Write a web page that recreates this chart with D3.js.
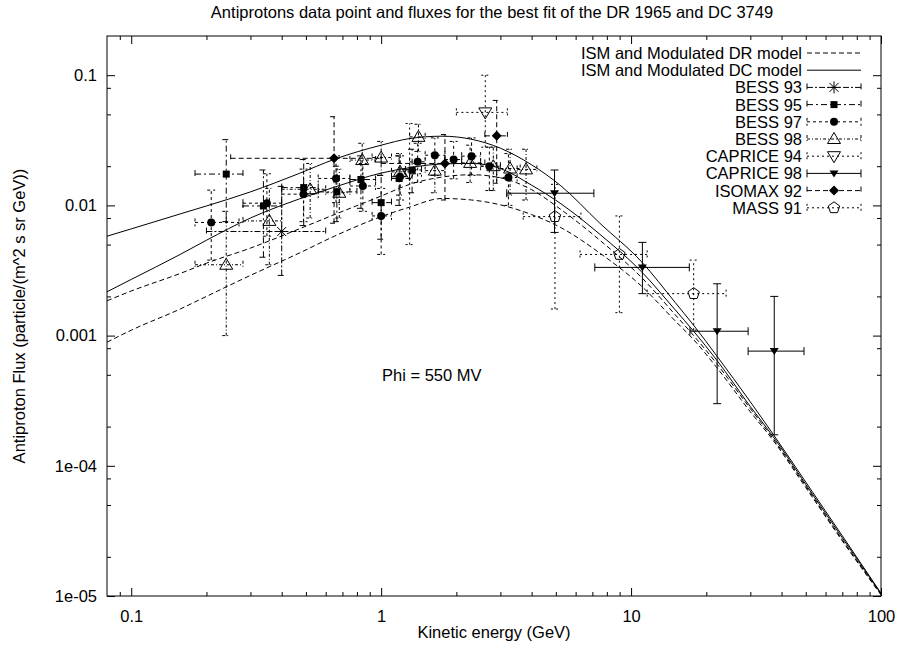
<!DOCTYPE html>
<html lang="en">
<head>
<meta charset="utf-8">
<title>Antiproton fluxes</title>
<script src="https://cdn.jsdelivr.net/npm/d3@7"></script>
<style>
body { margin: 0; background: #fff; }
text { font-family: "Liberation Sans", Arial, Helvetica, sans-serif; font-size: 16.5px; fill: #000; }
</style>
</head>
<body>
<svg id="chart" width="899" height="654"></svg>
<script>
// model curves
var energyGrid = [0.08, 0.1, 0.157, 0.2, 0.3, 0.47, 0.65, 1.0, 1.3, 1.75, 2.3, 3.0, 4.0, 5.2, 7.5, 11, 15, 17.8, 22, 30, 37, 50, 70, 100];
var dcUpper = [0.0058, 0.0066, 0.0086, 0.0099, 0.0127, 0.0176, 0.0226, 0.0290, 0.0326, 0.0340, 0.0322, 0.0275, 0.0205, 0.0143, 0.0073, 0.0037, 0.0018, 0.0012, 0.00070, 0.00031, 0.000175, 0.000075, 0.000029, 0.0000105];
var dcLower = [0.00217, 0.0027, 0.0042, 0.0054, 0.0080, 0.0112, 0.0138, 0.0177, 0.0195, 0.0208, 0.0210, 0.0192, 0.0143, 0.0104, 0.0060, 0.0031, 0.00158, 0.00108, 0.00065, 0.000285, 0.000168, 0.000072, 0.000028, 0.0000104];
var drUpper = [0.00185, 0.0022, 0.0030, 0.0036, 0.0047, 0.0066, 0.0085, 0.0118, 0.0145, 0.0165, 0.0172, 0.0163, 0.0132, 0.0094, 0.0054, 0.0028, 0.00145, 0.00100, 0.00061, 0.000275, 0.000162, 0.000070, 0.000027, 0.0000103];
var drLower = [0.00089, 0.0011, 0.0016, 0.0020, 0.0029, 0.0043, 0.0058, 0.0082, 0.0097, 0.0113, 0.0110, 0.0101, 0.0085, 0.0068, 0.0043, 0.0024, 0.0013, 0.00093, 0.00057, 0.00026, 0.000157, 0.000068, 0.0000265, 0.0000102];

// data points: [E, flux, Elow, Ehigh, fluxLow, fluxHigh]
var bess93 = [[0.40, 0.0063, 0.20, 0.60, 0.0029, 0.0140]];
var bess95 = [
  [0.24, 0.0174, 0.18, 0.28, 0.0075, 0.032],
  [0.338, 0.0099, 0.28, 0.40, 0.0040, 0.0187],
  [0.49, 0.0137, 0.40, 0.56, 0.0070, 0.0225],
  [0.665, 0.0127, 0.56, 0.80, 0.0075, 0.020],
  [0.83, 0.0158, 0.75, 0.95, 0.0095, 0.024],
  [1.0, 0.0105, 0.92, 1.10, 0.0055, 0.017],
  [1.18, 0.0161, 1.10, 1.30, 0.0100, 0.024],
  [1.33, 0.0187, 1.25, 1.45, 0.0125, 0.027]
];
var bess97 = [
  [0.209, 0.0074, 0.18, 0.27, 0.0038, 0.0131],
  [0.349, 0.0104, 0.28, 0.40, 0.0058, 0.0175],
  [0.489, 0.0122, 0.40, 0.56, 0.0075, 0.0190],
  [0.66, 0.0161, 0.56, 0.75, 0.0105, 0.0240],
  [0.845, 0.0141, 0.75, 0.95, 0.0090, 0.0210],
  [1.0, 0.0083, 0.92, 1.10, 0.0042, 0.0135],
  [1.19, 0.0166, 1.10, 1.30, 0.0110, 0.0240],
  [1.40, 0.0216, 1.30, 1.50, 0.0150, 0.0300],
  [1.64, 0.0243, 1.50, 1.80, 0.0170, 0.0330],
  [1.95, 0.0225, 1.80, 2.10, 0.0160, 0.0310],
  [2.30, 0.0239, 2.10, 2.50, 0.0170, 0.0330],
  [2.71, 0.0200, 2.50, 2.90, 0.0130, 0.0280],
  [3.23, 0.0164, 2.90, 3.50, 0.0100, 0.0250]
];
var bess98 = [
  [0.24, 0.0035, 0.18, 0.28, 0.0010, 0.0090],
  [0.357, 0.0076, 0.28, 0.40, 0.0035, 0.0135],
  [0.52, 0.0133, 0.40, 0.60, 0.0080, 0.0210],
  [0.68, 0.0125, 0.60, 0.75, 0.0080, 0.0190],
  [0.84, 0.0223, 0.75, 0.95, 0.0160, 0.0300],
  [1.0, 0.0233, 0.92, 1.10, 0.0170, 0.0310],
  [1.19, 0.0181, 1.10, 1.30, 0.0120, 0.0250],
  [1.41, 0.0336, 1.30, 1.50, 0.0260, 0.0420],
  [1.64, 0.0185, 1.50, 1.80, 0.0125, 0.0250],
  [2.27, 0.0212, 2.10, 2.50, 0.0150, 0.0290],
  [2.81, 0.0200, 2.50, 3.00, 0.0130, 0.0280],
  [3.28, 0.0192, 3.00, 3.60, 0.0120, 0.0270],
  [3.80, 0.0189, 3.50, 4.20, 0.0110, 0.0270]
];
var caprice94 = [
  [1.30, 0.0175, 1.18, 1.45, 0.0050, 0.0426],
  [2.61, 0.0518, 2.00, 3.20, 0.0280, 0.100]
];
var caprice98 = [
  [4.94, 0.0124, 3.18, 7.10, 0.0062, 0.0187],
  [11.1, 0.00334, 7.16, 17.1, 0.0021, 0.0052],
  [22.1, 0.00108, 17.2, 29.4, 0.00030, 0.0025],
  [37.4, 0.00076, 29.4, 49.2, 0.000173, 0.0020]
];
var isomax92 = [
  [0.648, 0.0230, 0.25, 1.00, 0.0073, 0.048],
  [1.80, 0.0210, 1.00, 2.60, 0.0110, 0.035],
  [2.90, 0.0342, 2.60, 3.20, 0.0148, 0.064]
];
var mass91 = [
  [4.96, 0.0082, 3.70, 6.30, 0.0016, 0.0145],
  [8.98, 0.0042, 6.25, 11.6, 0.0015, 0.0083],
  [17.8, 0.0021, 11.6, 24.0, 0.0011, 0.0038]
];

var xTickValues = [0.1, 1, 10, 100];
var xTickLabels = ["0.1", "1", "10", "100"];
var yTickValues = [1e-5, 1e-4, 1e-3, 1e-2, 1e-1];
var yTickLabels = ["1e-05", "1e-04", "0.001", "0.01", "0.1"];

var L = 107, R = 881, T = 36, B = 596;

var svg = d3.select("#chart");
var x = d3.scaleLog().domain([0.08, 100]).range([L, R]);
var y = d3.scaleLog().domain([1e-5, 0.2]).range([B, T]);

// minor ticks: 2..9 on x, 2,5,8 on y
var xMinor = [];
[0.01, 0.1, 1, 10].forEach(function(d) {
  for (var k = 2; k <= 9; k++) { var v = d * k; if (v > 0.08 && v < 100) xMinor.push(v); }
});
var yMinor = [];
[1e-5, 1e-4, 1e-3, 1e-2, 1e-1].forEach(function(d) {
  [2, 5, 8].forEach(function(k) { var v = d * k; if (v < 0.2) yMinor.push(v); });
});

function styleAxis(g) {
  g.select(".domain").remove();
  g.selectAll("line").attr("stroke", "#000").attr("stroke-width", 1);
  g.attr("font-size", null).attr("font-family", null);
  g.selectAll("text").style("font-size", "16.5px");
}

svg.append("g").attr("transform", "translate(0," + B + ")")
  .call(d3.axisBottom(x).tickValues(xTickValues).tickFormat(function(d, i) { return xTickLabels[i]; })
    .tickSizeInner(-8).tickSizeOuter(0).tickPadding(14)).call(styleAxis);
svg.append("g").attr("transform", "translate(0," + B + ")")
  .call(d3.axisBottom(x).tickValues(xMinor).tickFormat("").tickSizeInner(-4).tickSizeOuter(0)).call(styleAxis);
svg.append("g").attr("transform", "translate(0," + T + ")")
  .call(d3.axisTop(x).tickValues(xTickValues).tickFormat("").tickSizeInner(-8).tickSizeOuter(0)).call(styleAxis);
svg.append("g").attr("transform", "translate(0," + T + ")")
  .call(d3.axisTop(x).tickValues(xMinor).tickFormat("").tickSizeInner(-4).tickSizeOuter(0)).call(styleAxis);

svg.append("g").attr("transform", "translate(" + L + ",0)")
  .call(d3.axisLeft(y).tickValues(yTickValues).tickFormat(function(d, i) { return yTickLabels[i]; })
    .tickSizeInner(-8).tickSizeOuter(0).tickPadding(10)).call(styleAxis);
svg.append("g").attr("transform", "translate(" + L + ",0)")
  .call(d3.axisLeft(y).tickValues(yMinor).tickFormat("").tickSizeInner(-4).tickSizeOuter(0)).call(styleAxis);
svg.append("g").attr("transform", "translate(" + R + ",0)")
  .call(d3.axisRight(y).tickValues(yTickValues).tickFormat("").tickSizeInner(-8).tickSizeOuter(0)).call(styleAxis);
svg.append("g").attr("transform", "translate(" + R + ",0)")
  .call(d3.axisRight(y).tickValues(yMinor).tickFormat("").tickSizeInner(-4).tickSizeOuter(0)).call(styleAxis);

svg.append("rect").attr("x", L).attr("y", T).attr("width", R - L).attr("height", B - T)
  .attr("fill", "none").attr("stroke", "#000").attr("stroke-width", 1);

// texts
svg.append("text").attr("x", 492).attr("y", 18).attr("text-anchor", "middle")
  .text("Antiprotons data point and fluxes for the best fit of the DR 1965 and DC 3749");
svg.append("text").attr("x", 494).attr("y", 638).attr("text-anchor", "middle").text("Kinetic energy (GeV)");
svg.append("text").attr("transform", "translate(25," + ((T + B) / 2) + ") rotate(-90)")
  .attr("text-anchor", "middle").text("Antiproton Flux (particle/(m^2 s sr GeV))");
svg.append("text").attr("x", 382).attr("y", 381).text("Phi = 550 MV");

svg.append("clipPath").attr("id", "plotclip").append("rect")
  .attr("x", L).attr("y", T).attr("width", R - L).attr("height", B - T);
var plot = svg.append("g").attr("clip-path", "url(#plotclip)");

var line = d3.line().x(function(d) { return x(d[0]); }).y(function(d) { return y(d[1]); })
  .curve(d3.curveMonotoneX);

var drDash = "5,3";
[[dcUpper, null], [dcLower, null], [drUpper, drDash], [drLower, drDash]].forEach(function(c) {
  plot.append("path").datum(energyGrid.map(function(e, i) { return [e, c[0][i]]; }))
    .attr("d", line).attr("fill", "none").attr("stroke", "#000").attr("stroke-width", 1)
    .attr("stroke-dasharray", c[1]);
});

function polygon(n, r, rot) {
  var p = [];
  for (var i = 0; i < n; i++) {
    var a = rot + i * 2 * Math.PI / n;
    p.push([r * Math.cos(a), r * Math.sin(a)]);
  }
  return "M" + p.join("L") + "Z";
}

function drawMarker(g, kind, cx, cy) {
  var m = g.append("g").attr("transform", "translate(" + cx + "," + cy + ")");
  if (kind === "asterisk") {
    m.append("path").attr("d", "M-6,0L6,0M0,-6L0,6M-4.5,-4.5L4.5,4.5M-4.5,4.5L4.5,-4.5")
      .attr("stroke", "#000").attr("stroke-width", 1).attr("fill", "none");
  } else if (kind === "square") {
    m.append("rect").attr("x", -3.5).attr("y", -3.5).attr("width", 7).attr("height", 7).attr("fill", "#000");
  } else if (kind === "circle") {
    m.append("circle").attr("r", 4).attr("fill", "#000");
  } else if (kind === "triup") {
    m.append("path").attr("d", "M0,-6.5L6.5,4.5L-6.5,4.5Z").attr("fill", "none")
      .attr("stroke", "#000").attr("stroke-width", 1);
  } else if (kind === "tridown") {
    m.append("path").attr("d", "M0,6.5L6.5,-4.5L-6.5,-4.5Z").attr("fill", "none")
      .attr("stroke", "#000").attr("stroke-width", 1);
  } else if (kind === "tridownfill") {
    m.append("path").attr("d", "M0,4L4.5,-3L-4.5,-3Z").attr("fill", "#000");
  } else if (kind === "diamond") {
    m.append("path").attr("d", "M0,-5L5,0L0,5L-5,0Z").attr("fill", "#000");
  } else if (kind === "pentagon") {
    m.append("path").attr("d", polygon(5, 6, -Math.PI / 2)).attr("fill", "none")
      .attr("stroke", "#000").attr("stroke-width", 1);
  }
}

var cap = 4;
function drawSet(rows, kind, dash) {
  var g = plot.append("g");
  rows.forEach(function(r) {
    var cx = x(r[0]), cy = y(r[1]);
    var x0 = x(r[2]), x1 = x(r[3]), y0 = y(r[4]), y1 = y(r[5]);
    var d = "M" + x0 + "," + cy + "L" + x1 + "," + cy +
      "M" + x0 + "," + (cy - cap) + "L" + x0 + "," + (cy + cap) +
      "M" + x1 + "," + (cy - cap) + "L" + x1 + "," + (cy + cap) +
      "M" + cx + "," + y0 + "L" + cx + "," + y1 +
      "M" + (cx - cap) + "," + y0 + "L" + (cx + cap) + "," + y0 +
      "M" + (cx - cap) + "," + y1 + "L" + (cx + cap) + "," + y1;
    g.append("path").attr("d", d).attr("fill", "none").attr("stroke", "#000")
      .attr("stroke-width", 1).attr("stroke-dasharray", dash);
  });
  rows.forEach(function(r) { drawMarker(g, kind, x(r[0]), y(r[1])); });
}

var legendNames = ["ISM and Modulated DR model", "ISM and Modulated DC model", "BESS 93", "BESS 95",
  "BESS 97", "BESS 98", "CAPRICE 94", "CAPRICE 98", "ISOMAX 92", "MASS 91"];
var sets = [
  [bess93, "asterisk", "6,2,2,2"],
  [bess95, "square", "6,3,2,3"],
  [bess97, "circle", "3,3"],
  [bess98, "triup", "3,2,1,2"],
  [caprice94, "tridown", "2,3"],
  [caprice98, "tridownfill", null],
  [isomax92, "diamond", "5,3"],
  [mass91, "pentagon", "2,3"]
];
sets.forEach(function(s) { drawSet(s[0], s[1], s[2]); });

// legend
var lgText = 802, lg0 = 807, lg1 = 861, lgY = 53, lgStep = 17.2;
var lg = svg.append("g");
legendNames.forEach(function(name, i) {
  var yy = lgY + i * lgStep;
  lg.append("text").attr("x", lgText).attr("y", yy).attr("dy", "0.36em").attr("text-anchor", "end").text(name);
  if (i < 2) {
    lg.append("line").attr("x1", lg0).attr("x2", lg1).attr("y1", yy).attr("y2", yy)
      .attr("stroke", "#000").attr("stroke-width", 1).attr("stroke-dasharray", i === 0 ? drDash : null);
  } else {
    var s = sets[i - 2];
    lg.append("path").attr("d", "M" + lg0 + "," + yy + "L" + lg1 + "," + yy +
        "M" + lg0 + "," + (yy - cap) + "L" + lg0 + "," + (yy + cap) +
        "M" + lg1 + "," + (yy - cap) + "L" + lg1 + "," + (yy + cap))
      .attr("fill", "none").attr("stroke", "#000").attr("stroke-width", 1).attr("stroke-dasharray", s[2]);
    drawMarker(lg, s[1], (lg0 + lg1) / 2, yy);
  }
});
</script>
</body>
</html>
